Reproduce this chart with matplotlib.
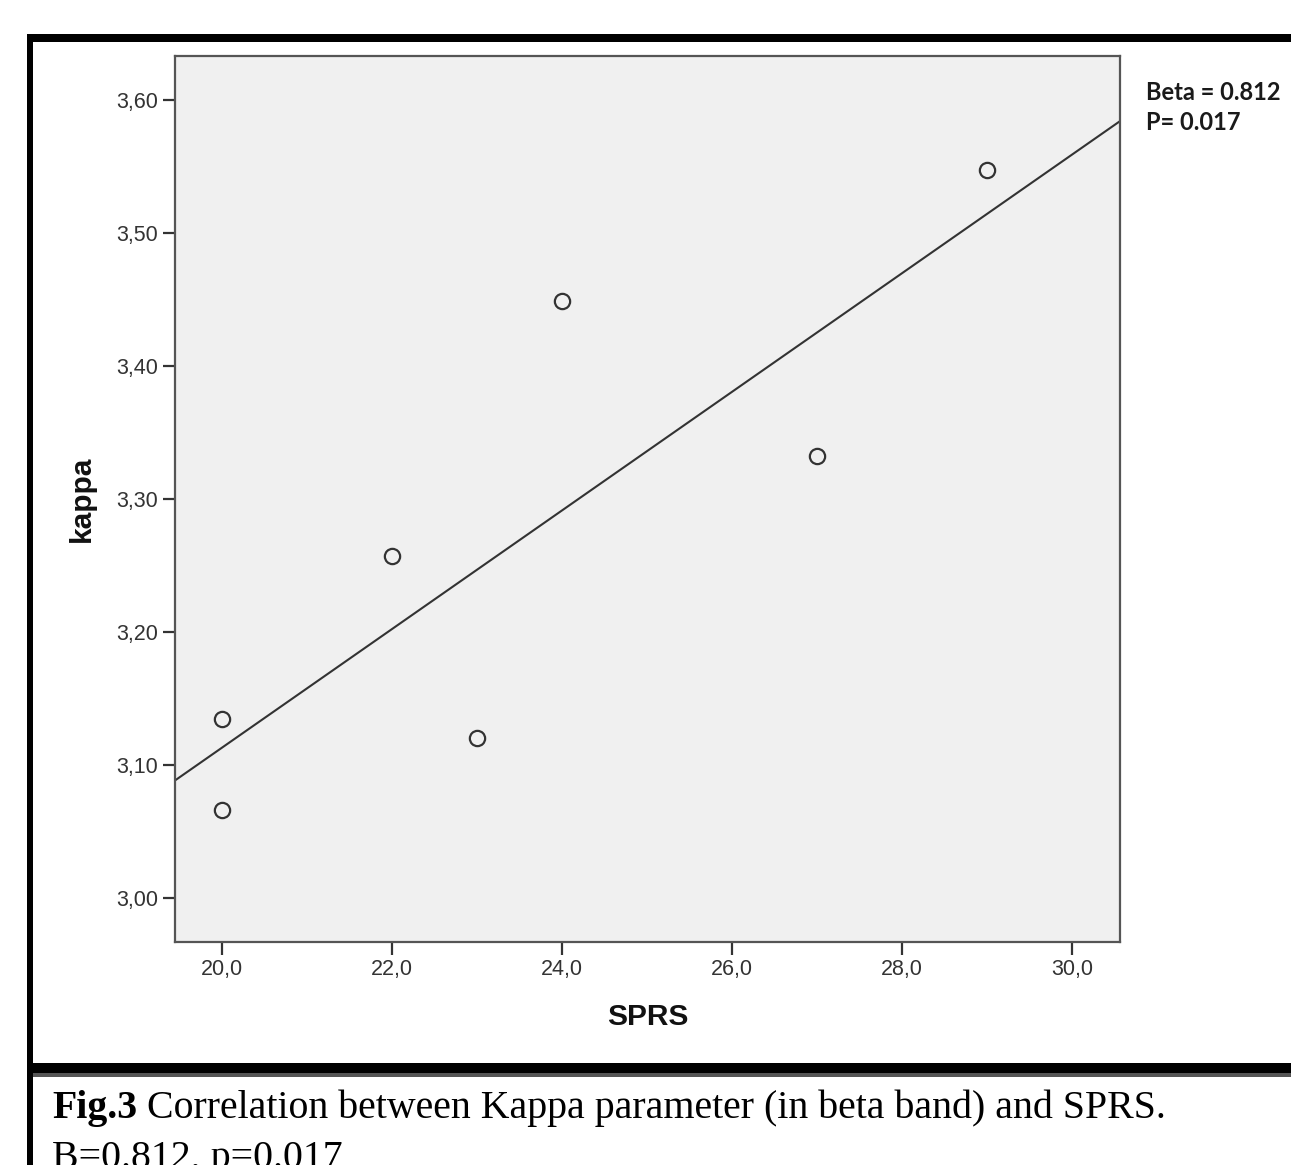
import numpy as np
import matplotlib
matplotlib.use("Agg")
import matplotlib.pyplot as plt
from matplotlib.patches import Rectangle

# ---- data ----
sprs = [20, 20, 22, 23, 24, 27, 29]
kappa = [3.135, 3.066, 3.257, 3.120, 3.449, 3.332, 3.547]
xticks = [20, 22, 24, 26, 28, 30]
xtick_labels = ["20,0", "22,0", "24,0", "26,0", "28,0", "30,0"]
yticks = [3.00, 3.10, 3.20, 3.30, 3.40, 3.50, 3.60]
ytick_labels = ["3,00", "3,10", "3,20", "3,30", "3,40", "3,50", "3,60"]
annot_lines = ["Beta = 0.812", "P= 0.017"]
caption_bold = "Fig.3"
caption_rest = " Correlation between Kappa parameter (in beta band) and SPRS."
caption_line2 = "B=0.812, p=0.017"

W, H = 1291, 1165
fig = plt.figure(figsize=(W / 100, H / 100), dpi=100)
fig.patch.set_facecolor("white")

def fx(px):
    return px / W

def fy(py):
    return 1 - py / H

# ---- frame lines ----
def rect(x0, y0, x1, y1, color):
    fig.patches.append(Rectangle((fx(x0), fy(y1)), fx(x1) - fx(x0), fy(y0) - fy(y1),
                                 transform=fig.transFigure, facecolor=color,
                                 edgecolor="none", zorder=5))

rect(27, 34, W, 42, "black")
rect(27, 34, 33, H, "black")
rect(27, 1063, W, 1073, "black")
rect(33, 1073, W, 1077, "#555555")

# ---- axes ----
ax_l, ax_r, ax_t, ax_b = 175, 1120, 56, 942
ax = fig.add_axes([fx(ax_l), fy(ax_b), fx(ax_r) - fx(ax_l), fy(ax_t) - fy(ax_b)])
ax.set_facecolor("#f0f0f0")
ax.set_xlim(19.45, 30.56)
ax.set_ylim(2.967, 3.633)

for s in ax.spines.values():
    s.set_color("#555555")
    s.set_linewidth(1.6)

ax.set_xticks(xticks)
ax.set_xticklabels(xtick_labels)
ax.set_yticks(yticks)
ax.set_yticklabels(ytick_labels)
ax.tick_params(axis="both", direction="out", length=9, width=1.6, color="#333333",
               labelsize=15.5, labelcolor="#333333", pad=3)
for lab in ax.get_xticklabels() + ax.get_yticklabels():
    lab.set_fontfamily("Liberation Sans")

# fit line
coef = np.polyfit(sprs, kappa, 1)
xl = np.array(ax.get_xlim())
ax.plot(xl, np.polyval(coef, xl), color="#333333", lw=1.5, zorder=2)

ax.plot(sprs, kappa, linestyle="none", marker="o", markersize=11,
        markerfacecolor="none", markeredgecolor="#333333", markeredgewidth=1.6, zorder=3)

ax.set_xlabel("SPRS", fontsize=21.5, fontweight="bold", family="Liberation Sans", color="#111111")
ax.xaxis.set_label_coords(0.5, -(1017 - ax_b) / (ax_b - ax_t))
ax.xaxis.label.set_va("center")
ax.set_ylabel("kappa", fontsize=21.5, fontweight="bold", family="Liberation Sans", color="#111111")
ax.yaxis.set_label_coords(-(ax_l - 82) / (ax_r - ax_l), 0.5)
ax.yaxis.label.set_va("center")

# annotation
fig.text(fx(1146), fy(92), annot_lines[0], fontsize=17, fontweight="bold",
         family="Lato", color="#1a1a1a", va="center", ha="left")
fig.text(fx(1146), fy(123), annot_lines[1], fontsize=17, fontweight="bold",
         family="Lato", color="#1a1a1a", va="center", ha="left")

# caption
t1 = fig.text(fx(52), fy(1118), caption_bold, fontsize=28.7, fontweight="bold",
              family="Liberation Serif", va="baseline", ha="left", color="black")
fig.canvas.draw()
bb = t1.get_window_extent()
fig.text(bb.x1 / W, fy(1118), caption_rest, fontsize=28.7,
         family="Liberation Serif", va="baseline", ha="left", color="black")
fig.text(fx(52), fy(1168), caption_line2, fontsize=28.7,
         family="Liberation Serif", va="baseline", ha="left", color="black")

fig.savefig("out.png", dpi=100)
